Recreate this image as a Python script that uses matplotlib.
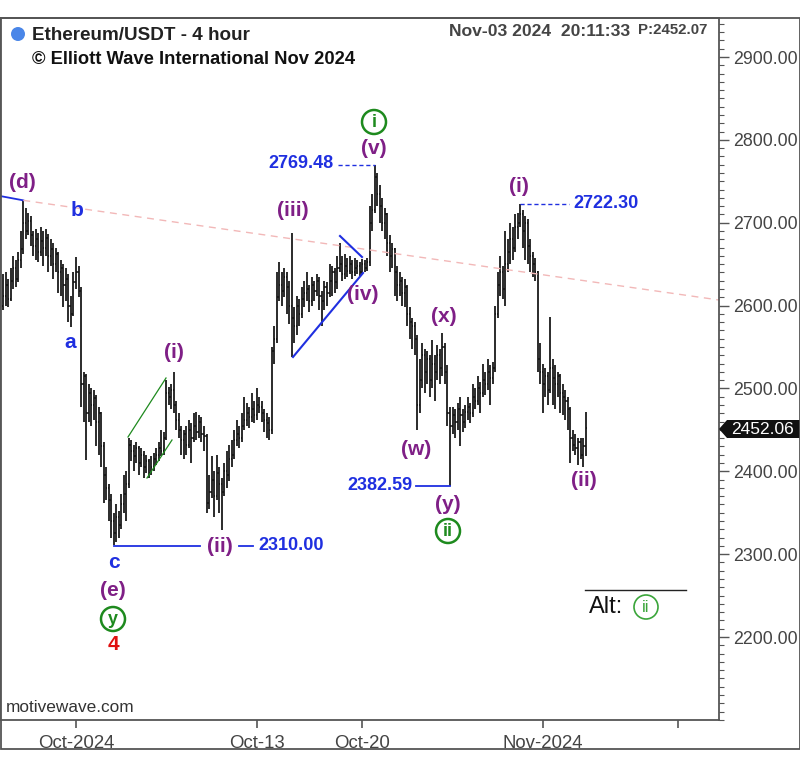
import matplotlib
matplotlib.use('Agg')
import matplotlib.pyplot as plt
import matplotlib.dates as mdates
import matplotlib.patches as mpatches
from matplotlib.ticker import MultipleLocator, FixedLocator, FuncFormatter
import pandas as pd

plt.rcParams['font.family'] = ['Liberation Sans', 'DejaVu Sans']

# ---------------- data (4-hour OHLC, open = previous close) ----------------
first_open = 2600
closes = [
    2612, 2625, 2608, 2630, 2645, 2632, 2655, 2668, 2700, 2690,
    2702, 2685, 2672, 2680, 2665, 2678, 2670, 2682, 2660, 2668,
    2650, 2662, 2640, 2645, 2625, 2632, 2600, 2590, 2628, 2640,
    2618, 2505, 2515, 2470, 2495, 2480, 2488, 2460, 2470, 2430,
    2395, 2380, 2365, 2340, 2325, 2345, 2335, 2360, 2372, 2385,
    2432, 2425, 2418, 2428, 2410, 2420, 2405, 2412, 2398, 2405,
    2415, 2420, 2428, 2425, 2440, 2495, 2490, 2498, 2480, 2462,
    2450, 2438, 2445, 2432, 2450, 2440, 2455, 2448, 2460, 2445,
    2442, 2362, 2375, 2390, 2370, 2398, 2385, 2375, 2400, 2395,
    2415, 2420, 2438, 2445, 2440, 2455, 2462, 2470, 2465, 2475,
    2468, 2480, 2478, 2470, 2462, 2458, 2450, 2545, 2560, 2610,
    2625, 2618, 2635, 2622, 2600, 2585, 2575, 2600, 2590, 2608,
    2615, 2620, 2605, 2625, 2618, 2630, 2612, 2605, 2622, 2615,
    2630, 2640, 2628, 2645, 2650, 2638, 2648, 2642, 2650, 2640,
    2645, 2648, 2640, 2650, 2645, 2652, 2700, 2715, 2755, 2735,
    2720, 2700, 2710, 2675, 2660, 2668, 2640, 2625, 2630, 2615,
    2622, 2590, 2580, 2575, 2560, 2480, 2510, 2540, 2520, 2535,
    2510, 2530, 2520, 2540, 2525, 2550, 2520, 2470, 2455, 2468,
    2460, 2475, 2468, 2460, 2472, 2478, 2470, 2490, 2485, 2500,
    2495, 2510, 2505, 2520, 2512, 2525, 2590, 2625, 2640, 2620,
    2650, 2665, 2680, 2670, 2695, 2700, 2710, 2690, 2700, 2672,
    2660, 2650, 2640, 2535, 2520, 2505, 2515, 2498, 2525, 2512,
    2505, 2515, 2495, 2490, 2485, 2475, 2440, 2432, 2428, 2435,
    2420, 2430, 2452,
]
highs = [
    2638, 2640, 2632, 2645, 2660, 2655, 2665, 2690, 2727, 2718,
    2712, 2708, 2690, 2692, 2688, 2695, 2690, 2692, 2686, 2680,
    2675, 2670, 2665, 2655, 2650, 2645, 2638, 2612, 2640, 2659,
    2648, 2622, 2520, 2518, 2505, 2500, 2498, 2492, 2478, 2472,
    2435, 2405, 2385, 2372, 2350, 2360, 2352, 2372, 2395, 2400,
    2440, 2438, 2432, 2435, 2430, 2428, 2425, 2420, 2415, 2418,
    2422, 2428, 2435, 2450, 2448, 2510, 2502, 2505, 2520, 2485,
    2470, 2455, 2450, 2455, 2462, 2458, 2470, 2472, 2468, 2465,
    2455, 2445, 2395, 2418, 2400, 2420, 2405, 2392, 2410, 2425,
    2432, 2438, 2450, 2462, 2455, 2470, 2490, 2482, 2478, 2495,
    2485, 2500, 2490, 2485, 2475, 2470, 2465, 2550, 2575, 2640,
    2652, 2640, 2645, 2640, 2630, 2688, 2598, 2612, 2608, 2622,
    2630, 2640, 2625, 2635, 2630, 2638, 2635, 2618, 2630, 2628,
    2650, 2648, 2645, 2660, 2675, 2660, 2662, 2658, 2660, 2655,
    2658, 2655, 2652, 2656, 2655, 2658, 2720, 2735, 2769.48, 2760,
    2745, 2730, 2718, 2712, 2685, 2675, 2670, 2648, 2640, 2635,
    2632, 2625, 2598, 2585, 2580, 2565, 2535, 2555, 2548, 2545,
    2540, 2558, 2540, 2552, 2548, 2567, 2555, 2528, 2478, 2478,
    2475, 2482, 2490, 2475, 2480, 2490, 2482, 2505, 2500, 2515,
    2508, 2530, 2520, 2535, 2528, 2532, 2600, 2640, 2660, 2648,
    2690, 2680, 2700, 2695, 2710, 2712, 2722.30, 2715, 2708, 2705,
    2680, 2665, 2658, 2642, 2555, 2530, 2525, 2520, 2586, 2535,
    2528, 2520, 2518, 2505, 2498, 2490, 2478, 2450, 2445, 2440,
    2440, 2440, 2472,
]
lows = [
    2595, 2600, 2598, 2605, 2620, 2622, 2628, 2645, 2662, 2680,
    2685, 2672, 2660, 2655, 2652, 2660, 2648, 2660, 2640, 2648,
    2632, 2640, 2615, 2612, 2598, 2605, 2580, 2574, 2588, 2620,
    2610, 2478, 2460, 2414, 2460, 2455, 2462, 2430, 2420, 2405,
    2362, 2365, 2340, 2320, 2311, 2315, 2320, 2330, 2350, 2340,
    2380, 2412, 2400, 2410, 2395, 2405, 2392, 2398, 2392, 2395,
    2400, 2408, 2412, 2418, 2420, 2438, 2480, 2475, 2470, 2450,
    2440, 2420, 2415, 2420, 2428, 2410, 2435, 2438, 2440, 2435,
    2425, 2350, 2355, 2368, 2345, 2365, 2350, 2329, 2370, 2380,
    2388, 2405, 2415, 2430, 2428, 2435, 2450, 2455, 2452, 2460,
    2458, 2462, 2470, 2460, 2448, 2440, 2438, 2445, 2530, 2555,
    2605, 2600, 2610, 2590, 2578, 2538, 2555, 2565, 2575, 2585,
    2598, 2605, 2592, 2600, 2605, 2612, 2595, 2575, 2595, 2600,
    2610, 2612, 2615, 2620, 2640, 2630, 2632, 2635, 2638, 2632,
    2636, 2638, 2635, 2638, 2640, 2642, 2648, 2690, 2712, 2720,
    2700, 2690, 2680, 2660, 2640, 2645, 2612, 2605, 2612, 2600,
    2598, 2575, 2560, 2548, 2540, 2450, 2470, 2500, 2495, 2505,
    2490, 2500, 2485, 2510, 2505, 2515, 2505, 2455, 2382.59, 2445,
    2440, 2450, 2430, 2448, 2452, 2462, 2458, 2465, 2475, 2480,
    2470, 2490, 2492, 2498, 2480, 2505, 2520, 2585, 2612, 2608,
    2600, 2640, 2650, 2655, 2665, 2680, 2695, 2670, 2655, 2650,
    2640, 2635, 2630, 2520, 2505, 2470, 2490, 2480, 2495, 2480,
    2475, 2490, 2470, 2468, 2462, 2450, 2410, 2425, 2420, 2408,
    2415, 2405, 2418,
]
start_time = '2024-09-26 04:00'
x_tick_dates = ['2024-10-01', '2024-10-13', '2024-10-20', '2024-11-01', '2024-11-10']
x_tick_labels = ['Oct-2024', 'Oct-13', 'Oct-20', 'Nov-2024', '']
y_ticks = [2200, 2300, 2400, 2500, 2600, 2700, 2800, 2900]
last_price = 2452.06
c_low = 2310.00
v_high = 2769.48
y_low = 2382.59
i_high = 2722.30

# ---------------- figure ----------------
W, H = 800, 780
fig = plt.figure(figsize=(W / 100, H / 100), dpi=100)
fig.patch.set_facecolor('white')
ax = fig.add_axes([0, 1 - 720 / H, 719 / W, (720 - 18) / H])

times = pd.date_range(start_time, periods=len(closes), freq='4h')
x = mdates.date2num(times.to_pydatetime())
opens = [first_open] + closes[:-1]
tk = (1 / 6) * 0.42
bar_col = '#111111'
ax.vlines(x, lows, highs, color=bar_col, lw=1.25)
ax.hlines(opens, x - tk, x, color=bar_col, lw=1.1)
ax.hlines(closes, x, x + tk, color=bar_col, lw=1.1)

oct1 = mdates.date2num(pd.Timestamp('2024-10-01').to_pydatetime())
px_per_day = 15.06
def xd(px):
    return oct1 + (px - 76) / px_per_day
def yp(py):
    return 2900 - (py - 57) * (700 / 580)

ax.set_xlim(xd(0), xd(719))
ax.set_ylim(yp(720), yp(18))

# axes styling
for s in ax.spines.values():
    s.set_color('#555555')
    s.set_linewidth(1.3)
ax.yaxis.tick_right()
ax.yaxis.set_major_locator(FixedLocator(y_ticks))
ax.yaxis.set_minor_locator(MultipleLocator(10))
ax.yaxis.set_major_formatter(FuncFormatter(lambda v, p: f'{v:.2f}'))
ax.tick_params(axis='y', which='major', direction='out', length=7, width=1,
               colors='#555555', labelcolor='#444444', labelsize=12.8, pad=3)
ax.tick_params(axis='y', which='minor', direction='out', length=3.5, width=0.8,
               colors='#555555')
xt = [mdates.date2num(pd.Timestamp(d).to_pydatetime()) for d in x_tick_dates]
ax.set_xticks(xt)
ax.set_xticklabels(x_tick_labels)
ax.tick_params(axis='x', direction='out', length=6, width=1.2, colors='#555555',
               labelcolor='#444444', labelsize=13.4, pad=5)

# trend lines
purple = '#7f1f86'
blue = '#1f2fe0'
green = '#1e8a1e'
d_x, d_y = x[8], highs[8]
ax.plot([xd(0), d_x], [yp(196), d_y], color=blue, lw=1.3)
ax.plot([d_x, xd(719)], [d_y, yp(300)], color='#f2b8b8', lw=1.0, ls=(0, (5, 4)))
# green channel around (i)
ax.plot([xd(128), xd(166)], [yp(437), yp(378)], color=green, lw=0.9)
ax.plot([xd(147), xd(172)], [yp(478), yp(440)], color=green, lw=0.9)
# triangle lines around (iv)
ax.plot([xd(293), xd(363)], [yp(357), yp(273)], color=blue, lw=1.5)
ax.plot([xd(340), xd(362)], [yp(236), yp(257)], color=blue, lw=1.5)
# level lines
ax.plot([x[44], xd(200)], [c_low, c_low], color=blue, lw=1.3)
ax.plot([xd(239), xd(253)], [c_low, c_low], color=blue, lw=1.3)
ax.plot([xd(338), x[148]], [v_high, v_high], color=blue, lw=1.0, ls=(0, (3, 2)))
ax.plot([x[206], xd(569)], [i_high, i_high], color=blue, lw=1.0, ls=(0, (3, 2)))
ax.plot([xd(416), x[178]], [y_low, y_low], color=blue, lw=1.3)

# ---------------- text ----------------
def ftext(px, py, s, **kw):
    kw.setdefault('ha', 'center')
    kw.setdefault('va', 'center')
    return fig.text(px / W, 1 - py / H, s, **kw)

def circ(px, py, s, col=green, r=12, lw=1.8, fs=13, weight='bold'):
    fig.patches.append(mpatches.Ellipse((px / W, 1 - py / H), 2 * r / W, 2 * r / H,
                                        transform=fig.transFigure, fc='white',
                                        ec=col, lw=lw, zorder=5))
    ftext(px, py + 0.5, s, color=col, fontsize=fs, fontweight=weight, zorder=6)

lab = dict(color=purple, fontsize=15, fontweight='bold')
blab = dict(color=blue, fontsize=15, fontweight='bold')
nlab = dict(color=blue, fontsize=13, fontweight='bold')

ftext(22, 182, '(d)', **lab)
ftext(77, 210, 'b', **blab)
ftext(70, 342, 'a', **blab)
ftext(174, 353, '(i)', **lab)
ftext(114, 563, 'c', **blab)
ftext(113, 590, '(e)', **lab)
circ(113, 619, 'y')
ftext(113, 644, '4', color='#e01010', fontsize=15, fontweight='bold')
ftext(220, 546, '(ii)', **lab)
ftext(291, 546, f'{c_low:.2f}', **nlab)
ftext(293, 211, '(iii)', **lab)
ftext(301, 164, f'{v_high:.2f}', **nlab)
ftext(374, 149, '(v)', **lab)
circ(374, 122, 'i')
ftext(363, 295, '(iv)', **lab)
ftext(444, 316, '(x)', **lab)
ftext(416, 450, '(w)', **lab)
ftext(380, 485, f'{y_low:.2f}', **nlab)
ftext(448, 504, '(y)', **lab)
circ(448, 531, 'ii')
ftext(519, 186, '(i)', **lab)
ftext(606, 203, f'{i_high:.2f}', **nlab)
ftext(584, 480, '(ii)', **lab)

# Alt
fig.add_artist(plt.Line2D([585 / W, 686 / W], [1 - 590 / H, 1 - 590 / H],
                          transform=fig.transFigure, color='#222222', lw=1.0))
ftext(606, 607, 'Alt:', color='#111111', fontsize=17)
circ(646, 607, 'ii', col='#3aa53a', r=12, lw=1.2, fs=12, weight='normal')

ftext(6, 708, 'motivewave.com', ha='left', color='#333333', fontsize=12.4)

# header
fig.patches.append(mpatches.Ellipse((18 / W, 1 - 34 / H), 14 / W, 14 / H,
                                    transform=fig.transFigure, fc='#4a86e8', ec='none'))
ftext(32, 35, 'Ethereum/USDT - 4 hour', ha='left', color='#222222', fontsize=13.6,
      fontweight='bold')
ftext(32, 59, '© Elliott Wave International Nov 2024', ha='left', color='#111111',
      fontsize=13.2, fontweight='bold')
ftext(449, 32, 'Nov-03 2024  20:11:33', ha='left', color='#444444', fontsize=12.6,
      fontweight='bold')
ftext(638, 30, 'P:2452.07', ha='left', color='#444444', fontsize=10.8, fontweight='bold')

# last-price marker on right axis
yl = 1 - 429 / H
poly = mpatches.Polygon([(719 / W, yl), (727 / W, yl + 9 / H), (800 / W, yl + 9 / H),
                         (800 / W, yl - 9 / H), (727 / W, yl - 9 / H)],
                        closed=True, transform=fig.transFigure, fc='#111111', ec='none')
fig.patches.append(poly)
ftext(763, 429, f'{last_price:.2f}', color='white', fontsize=12.5)

# outer frame
fig.patches.append(mpatches.Rectangle((0.5 / W, 1 - 749 / H), 799 / W, (749 - 18) / H,
                                      transform=fig.transFigure, fill=False,
                                      ec='#555555', lw=1.3))

fig.savefig('out.png', dpi=100, facecolor='white')
